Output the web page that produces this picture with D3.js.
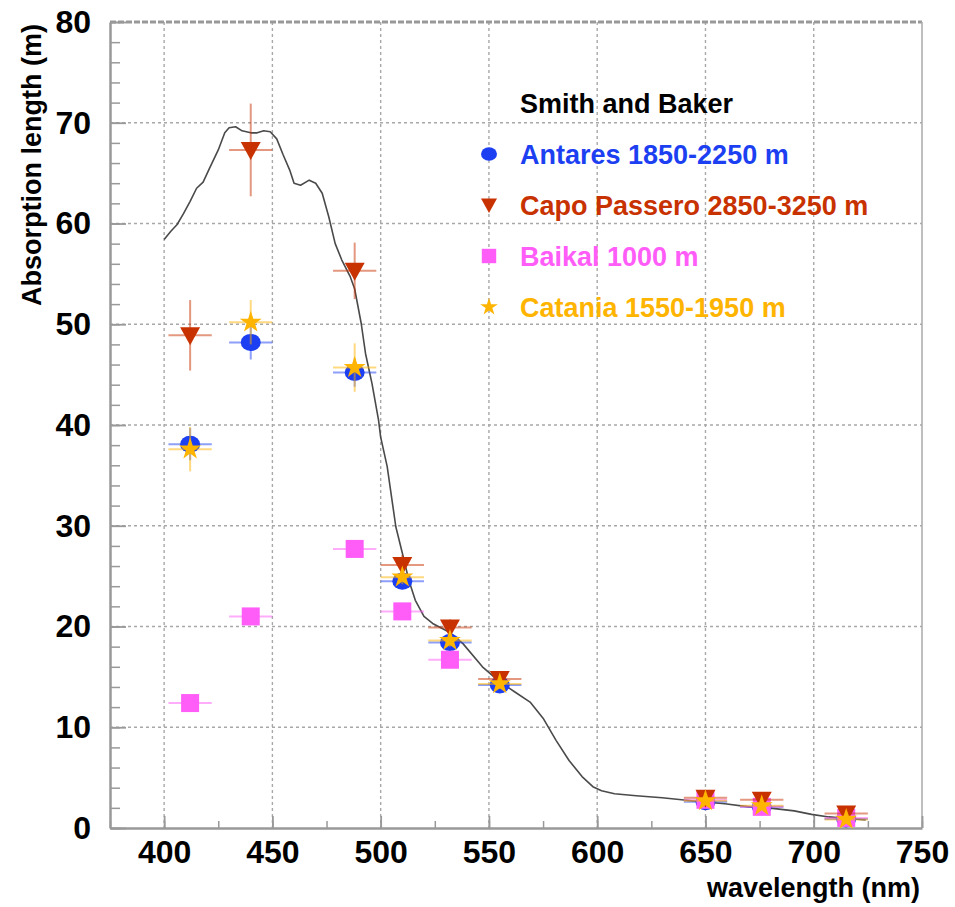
<!DOCTYPE html>
<html>
<head>
<meta charset="utf-8">
<script src="https://cdn.jsdelivr.net/npm/d3@7"></script>
<style>
  html, body { margin: 0; padding: 0; background: #fff; }
  svg text { font-family: "Liberation Sans", Arial, Helvetica, sans-serif; font-weight: bold; }
</style>
</head>
<body>
<svg id="chart" width="955" height="907"></svg>
<script>
// Smith & Baker pure-water absorption length (m) vs wavelength (nm)
const curveWl = [400, 403, 406, 409, 412, 415, 418, 421, 425, 428, 430, 433, 436, 440, 443, 446, 449,
  452, 455, 458, 460, 463, 467, 470, 473, 476, 479, 482, 486, 488, 491, 493, 496, 499, 500, 503, 505,
  507, 510, 513, 516, 520, 524, 532, 538, 547, 555, 562, 569, 575, 581, 587, 593, 598, 602, 608, 618,
  630, 639, 648, 659, 670, 681, 691, 699, 707, 716, 724];
const curveAbs = [58.4, 59.2, 59.9, 61.0, 62.2, 63.5, 64.1, 65.5, 67.3, 69.0, 69.5, 69.6, 69.2, 69.0,
  69.0, 69.2, 69.1, 68.4, 66.8, 65.3, 64.0, 63.8, 64.3, 64.0, 63.0, 60.7, 58.0, 56.4, 54.7, 53.5, 50.1,
  47.1, 44.1, 40.5, 38.8, 35.9, 32.9, 29.9, 27.3, 24.6, 22.6, 21.0, 20.3, 19.4, 18.3, 16.0, 14.5, 13.5,
  12.5, 10.9, 8.7, 6.7, 5.1, 4.1, 3.7, 3.4, 3.2, 3.0, 2.8, 2.6, 2.4, 2.1, 1.95, 1.7, 1.35, 1.1, 0.95, 0.8];

// Measured sites (wavelength in nm, absorption length in m, with errors)
const siteWl = [412, 440, 488, 510, 532, 555, 650, 676, 715];
const wlErr = 10;
const antares = [38.1, 48.2, 45.2, 24.5, 18.4, 14.2, 2.6, 2.1, 0.9];
const antaresErr = [1.6, 1.7, 1.4, 0.8, 0.6, 0.4, 0.2, 0.2, 0.2];
const capo = [48.9, 67.3, 55.3, 26.1, 19.9, 14.8, 3.0, 2.8, 1.45];
const capoErr = [3.5, 4.6, 2.8, 1.0, 0.8, 0.6, 0.3, 0.3, 0.2];
const baikalWl = [412, 440, 488, 510, 532, 650, 676, 715];
const baikal = [12.4, 21.0, 27.7, 21.5, 16.7, 2.8, 2.1, 1.0];
const baikalErr = [0.4, 0.4, 0.4, 0.4, 0.4, 0.2, 0.2, 0.2];
const catania = [37.6, 50.2, 45.7, 24.9, 18.6, 14.3, 2.7, 2.2, 0.85];
const cataniaErr = [2.2, 2.2, 2.4, 0.7, 0.6, 0.5, 0.2, 0.2, 0.2];

const legendTitle = "Smith and Baker";
const seriesNames = ["Antares 1850-2250 m", "Capo Passero 2850-3250 m", "Baikal 1000 m", "Catania 1550-1950 m"];
const seriesColors = ["#1c3ff2", "#c83200", "#ff5cf8", "#ffb400"];

const xMajor = [400, 450, 500, 550, 600, 650, 700, 750];
const yMajor = [0, 10, 20, 30, 40, 50, 60, 70, 80];

const svg = d3.select("#chart");
const x = d3.scaleLinear().domain([375, 750]).range([110, 922]);
const y = d3.scaleLinear().domain([0, 80]).range([828, 22]);
const [x0, x1] = x.range();
const [y0, y1] = y.range();

// grid
const grid = svg.append("g").attr("stroke", "#a8a8a8").attr("stroke-width", 1.4)
  .attr("stroke-dasharray", "3,3").attr("fill", "none");
grid.selectAll("line.v").data(xMajor.filter(v => v > 375 && v < 750)).join("line")
  .attr("x1", d => x(d)).attr("x2", d => x(d)).attr("y1", y1).attr("y2", y0);
grid.selectAll("line.h").data(yMajor.filter(v => v > 0 && v < 80)).join("line")
  .attr("x1", x0).attr("x2", x1).attr("y1", d => y(d)).attr("y2", d => y(d));

// frame: top and right
svg.append("line").attr("x1", x0).attr("x2", x1).attr("y1", y1).attr("y2", y1)
  .attr("stroke", "#999").attr("stroke-width", 3).attr("stroke-dasharray", "6,2");
svg.append("line").attr("x1", x1).attr("x2", x1).attr("y1", y1).attr("y2", y0)
  .attr("stroke", "#aaa").attr("stroke-width", 1.5);

// axes
function styleAxis(g) {
  g.select(".domain").attr("stroke", "#999").attr("stroke-width", 2.5);
  g.selectAll(".tick line").attr("stroke", "#999").attr("stroke-width", 1.8);
  g.selectAll(".tick text").attr("fill", "#000").style("font-size", "32px");
}
const yAxisMinor = d3.axisLeft(y).tickValues(d3.range(0, 81, 2)).tickSize(-10).tickFormat("");
svg.append("g").attr("transform", `translate(${x0},0)`).call(yAxisMinor)
  .call(g => { g.select(".domain").remove(); g.selectAll(".tick line").attr("stroke", "#999").attr("stroke-width", 1.5); });
const yAxis = d3.axisLeft(y).tickValues(yMajor).tickSize(-16).tickPadding(19).tickSizeOuter(0);
svg.append("g").attr("transform", `translate(${x0},0)`).call(yAxis).call(styleAxis);

const xAxisMinor = d3.axisBottom(x).tickValues(d3.range(375, 751, 25)).tickSize(-7).tickFormat("");
svg.append("g").attr("transform", `translate(0,${y0})`).call(xAxisMinor)
  .call(g => { g.select(".domain").remove(); g.selectAll(".tick line").attr("stroke", "#999").attr("stroke-width", 1.5); });
const xAxis = d3.axisBottom(x).tickValues(xMajor).tickSize(-12).tickPadding(12).tickSizeOuter(0);
svg.append("g").attr("transform", `translate(0,${y0})`).call(xAxis).call(styleAxis);

// axis titles
svg.append("text").attr("transform", "translate(41,24) rotate(-90)")
  .attr("text-anchor", "end").style("font-size", "27px").attr("fill", "#000")
  .text("Absorption length (m)");
svg.append("text").attr("x", 920).attr("y", 897).attr("text-anchor", "end")
  .style("font-size", "27px").attr("fill", "#000").text("wavelength (nm)");

// reference curve
const line = d3.line().x((d, i) => x(curveWl[i])).y(d => y(d));
svg.append("path").datum(curveAbs).attr("d", line).attr("fill", "none")
  .attr("stroke", "#4a4a4a").attr("stroke-width", 1.6).attr("stroke-linejoin", "round");

// marker shapes
const shapes = [
  (g, s) => g.append("ellipse").attr("rx", 10 * s).attr("ry", 8.5 * s),
  (g, s) => g.append("path").attr("d", `M${-10 * s},${-8 * s}L${10 * s},${-8 * s}L0,${10 * s}Z`),
  (g, s) => g.append("rect").attr("x", -9 * s).attr("y", -9 * s).attr("width", 18 * s).attr("height", 18 * s),
  (g, s) => g.append("path").attr("d", d3.symbol(d3.symbolStar, 150 * s * s)())
];

function drawSeries(idx, wl, vals, errs) {
  const color = seriesColors[idx];
  const g = svg.append("g");
  const pts = wl.map((w, i) => ({ w, v: vals[i], e: errs[i] }));
  const eb = g.append("g").attr("stroke", color).attr("stroke-width", 2).attr("stroke-opacity", 0.5);
  eb.selectAll("line.h").data(pts).join("line")
    .attr("x1", d => x(d.w - wlErr)).attr("x2", d => x(d.w + wlErr))
    .attr("y1", d => y(d.v)).attr("y2", d => y(d.v));
  eb.selectAll("line.v").data(pts).join("line")
    .attr("x1", d => x(d.w)).attr("x2", d => x(d.w))
    .attr("y1", d => y(d.v - d.e)).attr("y2", d => y(d.v + d.e));
  pts.forEach(d => {
    const m = g.append("g").attr("transform", `translate(${x(d.w)},${y(d.v)})`).attr("fill", color);
    shapes[idx](m, 1);
  });
}
drawSeries(0, siteWl, antares, antaresErr);
drawSeries(2, baikalWl, baikal, baikalErr);
drawSeries(1, siteWl, capo, capoErr);
drawSeries(3, siteWl, catania, cataniaErr);

// legend
const leg = svg.append("g");
leg.append("text").attr("x", 520).attr("y", 113).style("font-size", "27px").attr("fill", "#000").text(legendTitle);
seriesNames.forEach((name, i) => {
  const base = 164 + i * 51;
  const m = leg.append("g").attr("transform", `translate(489,${base - 10})`).attr("fill", seriesColors[i]);
  shapes[i](m, 0.8);
  leg.append("text").attr("x", 520).attr("y", base).style("font-size", "27px")
    .attr("fill", seriesColors[i]).text(name);
});
</script>
</body>
</html>
